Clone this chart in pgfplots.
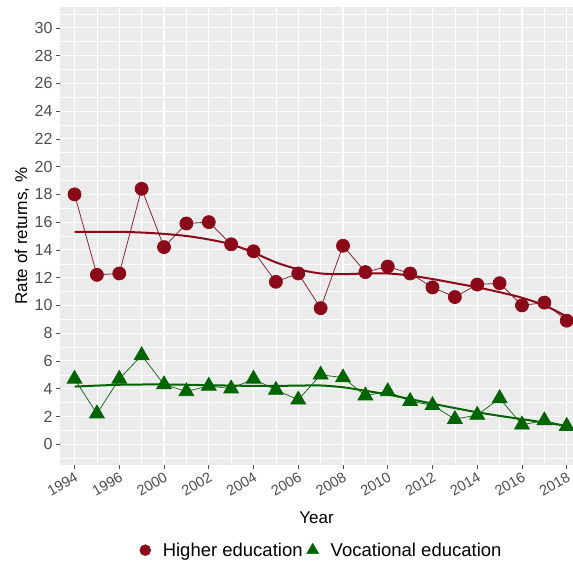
\documentclass[border=0pt]{standalone}
\usepackage{fontspec}
\setmainfont{Liberation Sans}
\usepackage{pgfplots}
\pgfplotsset{compat=1.18}
\definecolor{panelbg}{HTML}{EBEBEB}
\definecolor{ticktxt}{HTML}{4D4D4D}
\definecolor{hired}{HTML}{8B0A1A}
\definecolor{vocgreen}{HTML}{006400}
\begin{document}
\begin{tikzpicture}
\path[use as bounding box] (-60bp,-104bp) rectangle (513bp,465bp);
\begin{axis}[
  scale only axis, width=513bp, height=458bp,
  xmin=-0.65, xmax=22.28, ymin=-1.5, ymax=31.5,
  axis background/.style={fill=panelbg},
  axis line style={draw=none},
  xtick={0,2,...,22},
  xticklabels={1994,1996,2000,2002,2004,2006,2008,2010,2012,2014,2016,2018},
  minor xtick={1,3,...,21},
  ytick={0,2,...,30},
  minor ytick={-1,1,...,31},
  grid=both,
  major grid style={white, line width=1.1bp},
  minor grid style={white, line width=0.5bp},
  tick pos=left,
  tick align=outside, major tick length=4bp, minor tick length=0pt,
  tick style={ticktxt, line width=0.6bp},
  /pgf/number format/assume math mode=true,
  tick label style={font=\fontsize{16bp}{19bp}\selectfont, text=ticktxt},
  xticklabel style={font=\fontsize{14.5bp}{17bp}\selectfont, rotate=30, anchor=north east, inner sep=1.5bp},
  yticklabel style={/pgf/number format/fixed},
  xlabel={Year}, ylabel={Rate of returns, \%},
  label style={font=\fontsize{17bp}{20bp}\selectfont},
  xlabel style={at={(axis description cs:0.5,-0.116)}, anchor=center},
  ylabel style={at={(axis description cs:-0.074,0.5)}, anchor=center, rotate=0},
  legend style={at={(axis description cs:0.51,-0.186)}, anchor=center, draw=none, fill=none,
    legend columns=2, font=\fontsize{18.5bp}{22bp}\selectfont,
    /tikz/every odd column/.append style={column sep=10bp},
    /tikz/every even column/.append style={column sep=2bp}},
  legend cell align=left,
  clip=false,
]
% connecting lines and points: higher education
\addplot[hired!75!gray, line width=0.8bp, mark=*, mark size=6.5bp,
  mark options={fill=hired, draw=hired}, forget plot] coordinates {
(0,18.0) (1,12.2) (2,12.3) (3,18.4) (4,14.2) (5,15.9) (6,16.0) (7,14.4) (8,13.9) (9,11.7)
(10,12.3) (11,9.8) (12,14.3) (13,12.4) (14,12.8) (15,12.3) (16,11.3) (17,10.6) (18,11.5)
(19,11.6) (20,10.0) (21,10.2) (22,8.9)};
% smooth: higher education
\addplot[hired, line width=2bp, smooth, forget plot] coordinates {
(0,15.3) (1,15.3) (2,15.3) (3,15.25) (4,15.15) (5,15.0) (6,14.75) (7,14.4) (8,13.8) (9,13.1)
(10,12.6) (11,12.3) (12,12.25) (13,12.3) (14,12.3) (15,12.15) (16,11.9) (17,11.6) (18,11.3)
(19,10.95) (20,10.55) (21,10.0) (22,9.2)};
% vocational
\addplot[vocgreen!75!gray, line width=0.8bp, mark=triangle*, mark size=8.5bp,
  mark options={fill=vocgreen, draw=vocgreen}, forget plot] coordinates {
(0,4.7) (1,2.2) (2,4.7) (3,6.4) (4,4.3) (5,3.8) (6,4.2) (7,4.0) (8,4.7) (9,3.9)
(10,3.2) (11,5.0) (12,4.8) (13,3.5) (14,3.8) (15,3.1) (16,2.8) (17,1.8) (18,2.1)
(19,3.3) (20,1.4) (21,1.7) (22,1.3)};
\addplot[vocgreen, line width=2bp, smooth, forget plot] coordinates {
(0,4.15) (1,4.22) (2,4.28) (3,4.3) (4,4.3) (5,4.28) (6,4.25) (7,4.22) (8,4.2) (9,4.2)
(10,4.22) (11,4.23) (12,4.1) (13,3.85) (14,3.58) (15,3.25) (16,2.92) (17,2.6) (18,2.3)
(19,2.04) (20,1.8) (21,1.56) (22,1.32)};
\addlegendimage{only marks, mark=*, mark size=5.5bp, mark options={fill=hired, draw=hired}}
\addlegendentry{Higher education}
\addlegendimage{only marks, mark=triangle*, mark size=7bp, mark options={fill=vocgreen, draw=vocgreen}}
\addlegendentry{Vocational education}
\end{axis}
\end{tikzpicture}
\end{document}
